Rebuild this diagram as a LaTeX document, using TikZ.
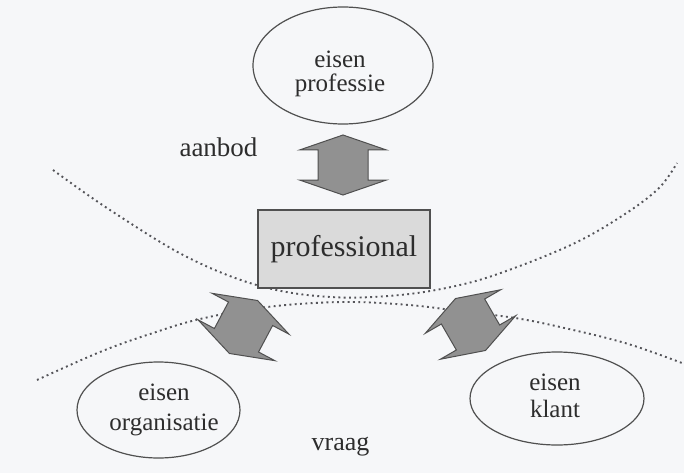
\documentclass[tikz,border=0pt]{standalone}
\usepackage{fontspec}
\setmainfont{Liberation Serif}
\usetikzlibrary{shapes.geometric}
\definecolor{ink}{RGB}{45,45,45}
\definecolor{edge}{RGB}{80,80,80}
\definecolor{arrowfill}{RGB}{145,145,145}
\definecolor{boxfill}{RGB}{218,218,218}
\definecolor{paper}{RGB}{246,247,249}
\definecolor{dotcol}{RGB}{85,85,90}
\tikzset{
  ell/.style={ellipse, draw=edge, line width=1.2pt, inner sep=0pt},
  lbl/.style={text=ink, align=center, inner sep=0pt},
  boundary/.style={draw=dotcol, line width=1.9pt, dash pattern=on 1.9pt off 3.4pt},
  blockarrow/.style={fill=arrowfill, draw=edge, line width=1pt, line join=miter},
  dblarrow/.pic={
    \draw[blockarrow] (0,-30) -- (43.5,-15) -- (25,-15) -- (25,15) -- (43.5,15)
      -- (0,30) -- (-43.5,15) -- (-25,15) -- (-25,-15) -- (-43.5,-15) -- cycle;
  }
}
\begin{document}
\begin{tikzpicture}[x=1pt,y=-1pt]
\fill[paper] (0,0) rectangle (684,473);
\useasboundingbox (0,0) rectangle (684,473);

% dotted boundaries of the three domains
\draw[boundary] plot[smooth, tension=0.6] coordinates {
  (53,170) (110,210) (187,257) (260,286) (330,297) (400,295) (460,285)
  (509,270) (575,243) (625,214) (659,188) (677,163)};
\draw[boundary] plot[smooth, tension=0.6] coordinates {
  (37,380) (100,352) (150,334) (200,319) (267,307) (342,302) (409,305)
  (459,311) (515,318) (560,327) (625,343) (682,363)};

% requirement ellipses
\node[ell, minimum width=180pt, minimum height=117pt] (eprof) at (343,65.5) {};
\node[lbl, font=\fontsize{25}{24}\selectfont] (tprof) at (340,74) {eisen\\professie};

\node[ell, minimum width=174pt, minimum height=93pt] (eklant) at (557,398.5) {};
\node[lbl, font=\fontsize{25}{27}\selectfont] (tklant) at (555,395.5) {eisen\\klant};

\node[ell, minimum width=163pt, minimum height=96pt] (eorg) at (158.5,410) {};
\node[lbl, font=\fontsize{25}{30}\selectfont] (torg) at (164,410) {eisen\\organisatie};

% central box
\node[draw=edge, fill=boxfill, line width=1.1pt, text=ink,
      minimum width=172pt, minimum height=78pt, inner sep=0pt,
      font=\fontsize{30}{34}\selectfont] (pro) at (344,249) {professional};

% double block arrows
\coordinate (aup) at (343,165);
\coordinate (aleft) at (243.5,327);
\coordinate (aright) at (470.5,324.5);
\pic at (aup) {dblarrow};
\pic[rotate=-28] at (aleft) {dblarrow};
\pic[rotate=30] at (aright) {dblarrow};

% side labels
\node[lbl, anchor=base, font=\fontsize{27}{30}\selectfont] (aanbod) at (218.5,157) {aanbod};
\node[lbl, anchor=base, font=\fontsize{26}{30}\selectfont] (vraag) at (340.5,450) {vraag};
\end{tikzpicture}
\end{document}
